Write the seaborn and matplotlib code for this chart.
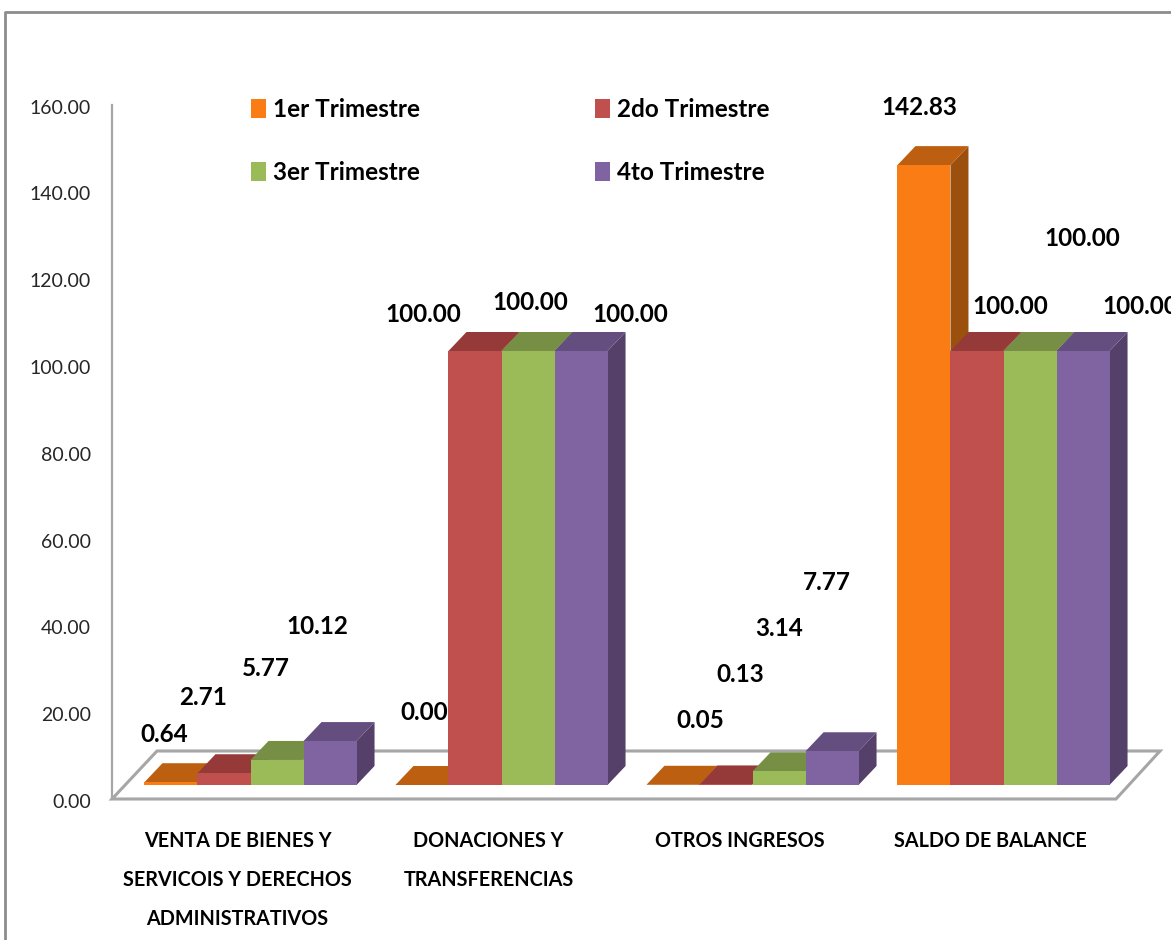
import matplotlib
matplotlib.use("Agg")
import matplotlib.pyplot as plt
from matplotlib.patches import Polygon, Rectangle
from matplotlib.transforms import ScaledTranslation
import pandas as pd
import seaborn as sns

categories = ["VENTA DE BIENES Y\nSERVICOIS Y DERECHOS\nADMINISTRATIVOS",
              "DONACIONES Y\nTRANSFERENCIAS", "OTROS INGRESOS", "SALDO DE BALANCE"]
series = ["1er Trimestre", "2do Trimestre", "3er Trimestre", "4to Trimestre"]
q1 = [0.64, 0.00, 0.05, 142.83]
q2 = [2.71, 100.00, 0.13, 100.00]
q3 = [5.77, 100.00, 3.14, 100.00]
q4 = [10.12, 100.00, 7.77, 100.00]
y_ticks = [0, 20, 40, 60, 80, 100, 120, 140, 160]

front = ["#F97C14", "#C0504D", "#9BBB59", "#8064A2"]
top = ["#BD5F10", "#953A38", "#778E45", "#644E80"]
side = ["#9C500E", "#7D3230", "#63763A", "#544068"]
label_offsets = [(-7, 48), (2, 73), (27, 64), (-5, 58),
                 (-21, 76), (-52, 37), (14, 110), (33, 44),
                 (-11, 91), (2, 49), (0, 143), (52, 113),
                 (-13, 115), (49, 37), (-5, 169), (57, 44)]

W, H = 1171, 940
PX_PER_UNIT = 4.34
sns.set_theme(style="white")
plt.rcParams["font.family"] = ["Lato", "DejaVu Sans"]

df = pd.DataFrame({
    "categoria": categories * 4,
    "trimestre": [s for s in series for _ in categories],
    "valor": q1 + q2 + q3 + q4,
})

fig = plt.figure(figsize=(W / 100, H / 100), dpi=100, facecolor="white")


def px_axes(left, right, bottom, topy):
    return fig.add_axes([left / W, 1 - bottom / H, (right - left) / W, (bottom - topy) / H])


GREY = "#A6A6A6"
# frame of the chart area
fig.add_artist(plt.Line2D([5.5 / W, 5.5 / W, 1], [0, 1 - 11.5 / H, 1 - 11.5 / H],
                          color="#8C8C8C", lw=2.0, transform=fig.transFigure))

# scale axes: carries the ticks and the category names
axis = px_axes(112, 1116, 799, 799 - 160 * PX_PER_UNIT)
axis.set_xlim(-0.5, 3.5)
axis.set_ylim(0, 160)
axis.set_xticks(range(4))
axis.set_xticklabels(categories, fontsize=14.2, fontweight="bold", color="#000000", linespacing=2.2, va="top")
axis.set_yticks(y_ticks)
axis.set_yticklabels([f"{v:.2f}" for v in y_ticks], fontsize=14, color="#262626")
axis.tick_params(axis="both", length=0)
axis.tick_params(axis="x", pad=23)
axis.tick_params(axis="y", pad=15)
nudge = ScaledTranslation(0, -2 / 100, fig.dpi_scale_trans)
for t in axis.get_yticklabels():
    t.set_transform(t.get_transform() + nudge)
for s in ("top", "right", "bottom"):
    axis.spines[s].set_visible(False)
axis.spines["left"].set_color(GREY)
axis.spines["left"].set_linewidth(1.6)
axis.patch.set_visible(False)

# floor of the 3D box
axis.add_patch(Polygon([(-0.5, 0), (-0.5 + 45 / 251, 48 / PX_PER_UNIT),
                        (3.5 + 44 / 251, 48 / PX_PER_UNIT), (3.5, 0)],
                       closed=True, fc="white", ec=GREY, lw=2.2, clip_on=False, zorder=1))

# bars axes: same scales, moved back onto the floor
ax = px_axes(125, 1129, 785, 785 - 160 * PX_PER_UNIT)
ax.patch.set_visible(False)
sns.barplot(data=df, x="categoria", y="valor", hue="trimestre", hue_order=series,
            palette=front, saturation=1, width=0.845, gap=0, dodge=True,
            linewidth=0, errorbar=None, ax=ax, legend=False)
ax.set_xlim(-0.5, 3.5)
ax.set_ylim(0, 160)
ax.axis("off")

dx = 18 * 4 / 1004
dy = 19 / PX_PER_UNIT
z = 3
bars = []
for i, cont in enumerate(ax.containers):
    for j, rect in enumerate(cont):
        bars.append((rect.get_x(), i, j, rect))
for k, (x0, i, j, rect) in enumerate(sorted(bars, key=lambda b: b[0])):
    w = rect.get_width()
    h = rect.get_height()
    x1 = x0 + w
    rect.set_zorder(z + 2)
    ax.add_patch(Polygon([(x0, h), (x0 + dx, h + dy), (x1 + dx, h + dy), (x1, h)],
                         closed=True, fc=top[i], ec="none", zorder=z + 1, clip_on=False))
    ax.add_patch(Polygon([(x1, 0), (x1 + dx, dy), (x1 + dx, h + dy), (x1, h)],
                         closed=True, fc=side[i], ec="none", zorder=z, clip_on=False))
    z += 3

# value labels
k = 0
for i, cont in enumerate(ax.containers):
    for j, rect in enumerate(cont):
        off = label_offsets[k]
        k += 1
        ax.annotate(f"{rect.get_height():.2f}",
                    (rect.get_x() + rect.get_width() / 2, rect.get_height()),
                    xytext=(off[0] * 0.72, off[1] * 0.72), textcoords="offset points",
                    ha="center", va="center", fontsize=17.5, fontweight="bold",
                    color="#000000", zorder=200, annotation_clip=False, clip_on=False)

# legend, filled row by row as in the reference
order = [0, 2, 1, 3]
handles = [Rectangle((0, 0), 1, 1, fc=front[n], ec="none") for n in order]
leg = fig.legend(handles, [series[n] for n in order], ncol=2, loc="upper left",
                 bbox_to_anchor=(251 / W, 1 - 98 / H), bbox_transform=fig.transFigure,
                 frameon=False, handlelength=0.62, handleheight=0.86,
                 handletextpad=0.29, columnspacing=7.2, labelspacing=1.64,
                 borderaxespad=0, borderpad=0, prop={"weight": "bold", "size": 17.5},
                 labelcolor="#000000")

fig.savefig("out.png", dpi=100, facecolor="white")
